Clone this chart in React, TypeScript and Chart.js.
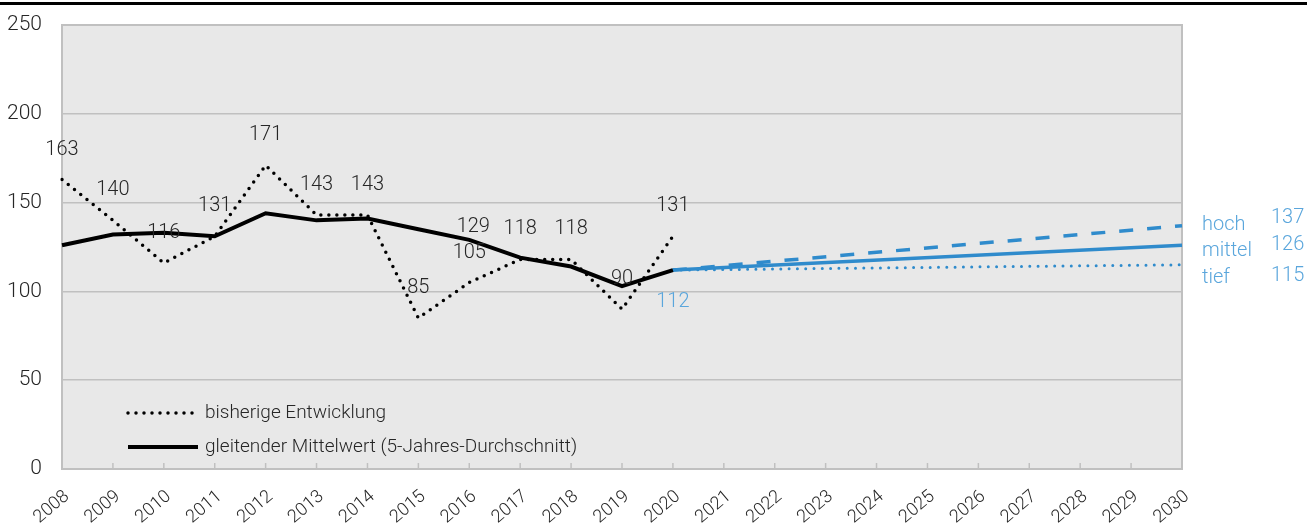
import React, { useEffect, useRef } from "react";
import { Chart, registerables } from "chart.js";

Chart.register(...registerables);

const years = [
  "2008", "2009", "2010", "2011", "2012", "2013", "2014", "2015", "2016", "2017", "2018",
  "2019", "2020", "2021", "2022", "2023", "2024", "2025", "2026", "2027", "2028", "2029", "2030",
];

const bisherige = [163, 140, 116, 131, 171, 143, 143, 85, 105, 118, 118, 90, 131,
  null, null, null, null, null, null, null, null, null, null];

const gleitend = [126, 132, 133, 131, 144, 140, 141, 135, 129, 119, 114, 103, 112,
  null, null, null, null, null, null, null, null, null, null];

const hoch = [null, null, null, null, null, null, null, null, null, null, null, null, 112,
  null, null, null, null, null, null, null, null, null, 137];
const mittel = [null, null, null, null, null, null, null, null, null, null, null, null, 112,
  null, null, null, null, null, null, null, null, null, 126];
const tief = [null, null, null, null, null, null, null, null, null, null, null, null, 112,
  null, null, null, null, null, null, null, null, null, 115];

const yTicks = [0, 50, 100, 150, 200, 250];
const gleitendLabelYear = "2016";
const scenarioNames = ["hoch", "mittel", "tief"];

const FONT = "Roboto";
const BLUE = "#2f8bcc";
const LIGHT_BLUE = "#5aa6dc";
const TEXT = "#262626";

const decorPlugin = {
  id: "decor",
  beforeDraw(chart: any) {
    const { ctx, chartArea } = chart;
    ctx.save();
    ctx.fillStyle = "#000";
    ctx.fillRect(0, 2, chart.width, 3);
    ctx.fillStyle = "#e8e8e8";
    ctx.fillRect(chartArea.left, chartArea.top, chartArea.right - chartArea.left, chartArea.bottom - chartArea.top);
    ctx.restore();
  },
  beforeDatasetsDraw(chart: any) {
    const { ctx, chartArea, scales } = chart;
    ctx.save();
    ctx.strokeStyle = "#c0c0c0";
    ctx.lineWidth = 1.5;
    for (let i = 1; i < years.length - 1; i++) {
      const x = scales.x.getPixelForValue(i);
      ctx.beginPath();
      ctx.moveTo(x, chartArea.bottom);
      ctx.lineTo(x, chartArea.bottom - 6);
      ctx.stroke();
    }
    ctx.lineWidth = 2;
    ctx.strokeRect(chartArea.left, chartArea.top, chartArea.right - chartArea.left, chartArea.bottom - chartArea.top);
    ctx.restore();
  },
  afterDatasetsDraw(chart: any) {
    const { ctx, chartArea, scales } = chart;
    const xs = scales.x;
    const ys = scales.y;
    ctx.save();
    ctx.font = `300 20px ${FONT}`;
    ctx.textAlign = "center";
    ctx.textBaseline = "middle";
    ctx.fillStyle = TEXT;
    bisherige.forEach((v, i) => {
      if (v == null) return;
      ctx.fillText(String(v), xs.getPixelForValue(i), ys.getPixelForValue(v) - 30);
    });
    const gi = years.indexOf(gleitendLabelYear);
    ctx.fillText(String(gleitend[gi]), xs.getPixelForValue(gi) + 4, ys.getPixelForValue(gleitend[gi] as number) - 13);

    // start value of projections
    const si = 12;
    ctx.fillStyle = LIGHT_BLUE;
    ctx.fillText(String(mittel[si]), xs.getPixelForValue(si), ys.getPixelForValue(mittel[si] as number) + 32);

    // scenario labels on right
    const ends = [hoch[22], mittel[22], tief[22]] as number[];
    const nameOff = [-1, 6, 13];
    const valOff = [-8, 0, 11];
    ctx.textAlign = "left";
    ends.forEach((v, k) => {
      const y = ys.getPixelForValue(v);
      ctx.fillText(scenarioNames[k], chartArea.right + 20, y + nameOff[k]);
      ctx.fillText(String(v), chartArea.right + 89, y + valOff[k]);
    });

    // legend
    const lx = chartArea.left + 66;
    const legendItems = [chart.data.datasets[0], chart.data.datasets[1]];
    const ly = [413, 447];
    ctx.font = `300 19px ${FONT}`;
    ctx.fillStyle = TEXT;
    legendItems.forEach((ds: any, k: number) => {
      ctx.save();
      ctx.strokeStyle = "#000";
      ctx.lineWidth = ds.borderWidth;
      ctx.lineCap = ds.borderCapStyle || "butt";
      ctx.setLineDash(ds.borderDash || []);
      ctx.beginPath();
      ctx.moveTo(lx, ly[k]);
      ctx.lineTo(lx + 70, ly[k]);
      ctx.stroke();
      ctx.restore();
      ctx.fillText(ds.label, lx + 77, ly[k]);
    });
    ctx.restore();
  },
};

export default function App() {
  const ref = useRef<HTMLCanvasElement>(null);
  useEffect(() => {
    document.body.style.margin = "0";
    const chart = new Chart(ref.current as HTMLCanvasElement, {
      type: "line",
      data: {
        labels: years,
        datasets: [
          {
            label: "bisherige Entwicklung",
            data: bisherige,
            borderColor: "#000",
            borderWidth: 3.5,
            borderDash: [0, 8],
            borderCapStyle: "round",
            pointRadius: 0,
            tension: 0,
          },
          {
            label: "gleitender Mittelwert (5-Jahres-Durchschnitt)",
            data: gleitend,
            borderColor: "#000",
            borderWidth: 4,
            pointRadius: 0,
            tension: 0,
          },
          {
            label: "hoch",
            data: hoch,
            borderColor: BLUE,
            borderWidth: 3.5,
            borderDash: [14, 14],
            pointRadius: 0,
            spanGaps: true,
          },
          {
            label: "mittel",
            data: mittel,
            borderColor: BLUE,
            borderWidth: 3.5,
            pointRadius: 0,
            spanGaps: true,
          },
          {
            label: "tief",
            data: tief,
            borderColor: BLUE,
            borderWidth: 3,
            borderDash: [0, 8.3],
            borderCapStyle: "round",
            pointRadius: 0,
            spanGaps: true,
          },
        ] as any,
      },
      options: {
        animation: false,
        responsive: false,
        devicePixelRatio: 1,
        layout: { padding: { top: 25, right: 125, left: 0, bottom: 0 } },
        plugins: { legend: { display: false }, tooltip: { enabled: false } },
        scales: {
          x: {
            type: "category",
            offset: false,
            grid: { display: false },
            border: { display: false },
            ticks: {
              autoSkip: false,
              minRotation: 40,
              maxRotation: 40,
              padding: 9,
              labelOffset: 5,
              color: TEXT,
              font: { family: FONT, size: 18, weight: "300" as any },
            },
            afterFit(scale: any) {
              scale.height = 58;
              scale.paddingLeft = 0;
              scale.paddingRight = 0;
            },
          },
          y: {
            min: 0,
            max: 250,
            afterBuildTicks(scale: any) {
              scale.ticks = yTicks.map((v) => ({ value: v }));
            },
            grid: { color: "#c0c0c0", lineWidth: 1.5, drawTicks: false },
            border: { display: false },
            ticks: {
              padding: 20,
              color: TEXT,
              font: { family: FONT, size: 21, weight: "300" as any },
            },
            afterFit(scale: any) {
              scale.width = 62;
              scale.paddingTop = 0;
              scale.paddingBottom = 0;
            },
          },
        },
      },
      plugins: [decorPlugin],
    });
    return () => chart.destroy();
  }, []);
  return (
    <div style={{ width: 1307, height: 527 }}>
      <canvas ref={ref} width={1307} height={527} style={{ display: "block" }} />
    </div>
  );
}
